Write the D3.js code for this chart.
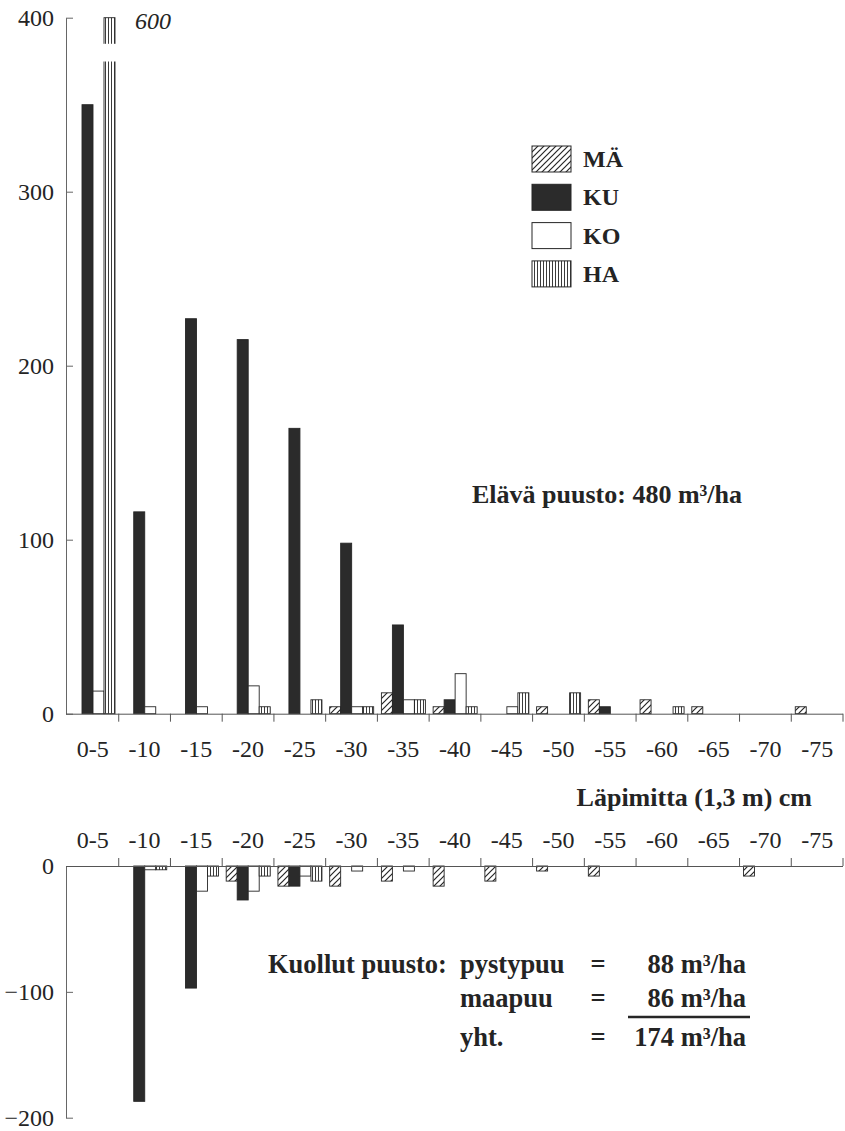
<!DOCTYPE html>
<html>
<head>
<meta charset="utf-8">
<script src="https://cdn.jsdelivr.net/npm/d3@7"></script>
<style>
  html, body { margin: 0; padding: 0; background: #fff; }
  svg { display: block; }
  text { font-family: "Liberation Serif", "Times New Roman", serif; fill: #242424; }
</style>
</head>
<body>
<script>
// ---- data ----
const categories = ["0-5","-10","-15","-20","-25","-30","-35","-40","-45","-50","-55","-60","-65","-70","-75"];
const series = ["MÄ","KU","KO","HA"];
// living trees (m3/ha per diameter class)
const liveMA = [0, 0, 0, 0, 0, 4, 12, 4, 0, 4, 8, 8, 4, 0, 4];
const liveKU = [350, 116, 227, 215, 164, 98, 51, 8, 0, 0, 4, 0, 0, 0, 0];
const liveKO = [13, 4, 4, 16, 0, 4, 8, 23, 4, 0, 0, 0, 0, 0, 0];
const liveHA = [600, 0, 0, 4, 8, 4, 8, 4, 12, 12, 0, 4, 0, 0, 0];
// dead trees (plotted downward)
const deadMA = [0, 0, 0, 12, 16, 16, 12, 16, 12, 4, 8, 0, 0, 8, 0];
const deadKU = [0, 187, 97, 27, 16, 0, 0, 0, 0, 0, 0, 0, 0, 0, 0];
const deadKO = [0, 3, 20, 20, 8, 4, 4, 0, 0, 0, 0, 0, 0, 0, 0];
const deadHA = [0, 3, 8, 8, 12, 0, 0, 0, 0, 0, 0, 0, 0, 0, 0];
const topTicks = [0, 100, 200, 300, 400];
const bottomTicks = [0, -100, -200];
const topMax = 400;

const liveRows = categories.map((c, i) => ({cat: c, "MÄ": liveMA[i], "KU": liveKU[i], "KO": liveKO[i], "HA": liveHA[i]}));
const deadRows = categories.map((c, i) => ({cat: c, "MÄ": deadMA[i], "KU": deadKU[i], "KO": deadKO[i], "HA": deadHA[i]}));

const W = 845, H = 1131;
const svg = d3.select("body").append("svg").attr("width", W).attr("height", H);
const ink = "#262626";

// patterns
const defs = svg.append("defs");
const hatch = defs.append("pattern").attr("id", "hatch").attr("patternUnits", "userSpaceOnUse")
  .attr("width", 6).attr("height", 6);
hatch.append("rect").attr("width", 6).attr("height", 6).attr("fill", "#fff");
hatch.append("path").attr("d", "M-1,7 L7,-1 M-4,4 L4,-4 M2,10 L10,2")
  .attr("stroke", ink).attr("stroke-width", 1.2);
const vl = defs.append("pattern").attr("id", "vlines").attr("patternUnits", "userSpaceOnUse")
  .attr("width", 3).attr("height", 10);
vl.append("rect").attr("width", 3).attr("height", 10).attr("fill", "#fff");
vl.append("line").attr("x1", 0.5).attr("x2", 0.5).attr("y1", 0).attr("y2", 10)
  .attr("stroke", ink).attr("stroke-width", 0.9);

const fills = {"MÄ": "url(#hatch)", "KU": "#2b2b2b", "KO": "#fff", "HA": "url(#vlines)"};

// scales
const x0 = d3.scaleBand().domain(categories).range([67, 843]).paddingInner(0).paddingOuter(0);
const x1 = d3.scaleBand().domain(series).range([4, 48]);
const yTop = d3.scaleLinear().domain([0, 400]).range([713.7, 17.7]);
const yBot = d3.scaleLinear().domain([-200, 0]).range([1117.7, 866]);

// ---- top chart ----
const gTop = svg.append("g");
liveRows.forEach(r => {
  series.forEach(s => {
    const v = r[s];
    if (!v) return;
    const vv = Math.min(v, topMax);
    gTop.append("rect")
      .attr("x", x0(r.cat) + x1(s))
      .attr("y", yTop(vv))
      .attr("width", x1.bandwidth())
      .attr("height", yTop(0) - yTop(vv))
      .attr("fill", fills[s])
      .attr("stroke", ink).attr("stroke-width", 0.9);
    if (v > topMax) {
      // axis break on the clipped bar
      gTop.append("rect")
        .attr("x", x0(r.cat) + x1(s) - 2)
        .attr("y", yTop(385))
        .attr("width", x1.bandwidth() + 4)
        .attr("height", yTop(375) - yTop(385) + 0.3)
        .attr("fill", "#fff");
      gTop.append("text")
        .attr("x", x0(r.cat) + x1(s) + x1.bandwidth() + 20)
        .attr("y", yTop(topMax) + 11)
        .attr("font-size", 24).attr("font-style", "italic")
        .text(v);
    }
  });
});

// top y axis
const yAxTop = svg.append("g").attr("transform", "translate(66,0)")
  .call(d3.axisLeft(yTop).tickValues(topTicks).tickSizeInner(-7).tickSizeOuter(0).tickPadding(12).tickFormat(d3.format("d")));
yAxTop.select(".domain").attr("stroke", "#666");
yAxTop.selectAll(".tick line").attr("stroke", "#666");
yAxTop.selectAll("text").attr("font-size", 24).attr("fill", ink);

// top x axis
const xAxTop = svg.append("g").attr("transform", `translate(0,${yTop(0)})`)
  .call(d3.axisBottom(x0).tickSize(0).tickPadding(26).tickSizeOuter(0));
xAxTop.select(".domain").attr("stroke", "#555").attr("d", "M66,0.5H843");
xAxTop.selectAll("text").attr("font-size", 24).attr("fill", ink);
svg.append("g").selectAll("line").data(categories.slice(1).concat(["end"]))
  .join("line")
  .attr("x1", d => d === "end" ? 843 : x0(d)).attr("x2", d => d === "end" ? 843 : x0(d))
  .attr("y1", yTop(0)).attr("y2", yTop(0) + 8)
  .attr("stroke", "#555");

// legend
const lg = svg.append("g");
series.forEach((s, i) => {
  lg.append("rect").attr("x", 532).attr("y", 146 + i * 38.3).attr("width", 39).attr("height", 26)
    .attr("fill", fills[s]).attr("stroke", ink).attr("stroke-width", 1);
  lg.append("text").attr("x", 583).attr("y", 167 + i * 38.3)
    .attr("font-size", 24).attr("font-weight", "bold").text(s);
});

// living stock text
svg.append("text").attr("x", 472).attr("y", 503).attr("font-size", 26).attr("font-weight", "bold")
  .text("Elävä puusto: 480 m³/ha");

// x title
svg.append("text").attr("x", 812).attr("y", 806).attr("text-anchor", "end")
  .attr("font-size", 26).attr("font-weight", "bold").text("Läpimitta (1,3 m) cm");

// ---- bottom chart ----
const gBot = svg.append("g");
deadRows.forEach(r => {
  series.forEach(s => {
    const v = r[s];
    if (!v) return;
    gBot.append("rect")
      .attr("x", x0(r.cat) + x1(s))
      .attr("y", yBot(0))
      .attr("width", x1.bandwidth())
      .attr("height", yBot(-v) - yBot(0))
      .attr("fill", fills[s])
      .attr("stroke", ink).attr("stroke-width", 0.9);
  });
});

const yAxBot = svg.append("g").attr("transform", "translate(66,0)")
  .call(d3.axisLeft(yBot).tickValues(bottomTicks).tickSizeInner(-7).tickSizeOuter(0).tickPadding(12).tickFormat(d3.format("d")));
yAxBot.select(".domain").attr("stroke", "#666");
yAxBot.selectAll(".tick line").attr("stroke", "#666");
yAxBot.selectAll("text").attr("font-size", 24).attr("fill", ink);

const xAxBot = svg.append("g").attr("transform", `translate(0,${yBot(0)})`)
  .call(d3.axisTop(x0).tickSize(0).tickPadding(18).tickSizeOuter(0));
xAxBot.select(".domain").attr("stroke", "#555").attr("d", "M66,0.5H843");
xAxBot.selectAll("text").attr("font-size", 24).attr("fill", ink);
svg.append("g").selectAll("line").data(categories.slice(1).concat(["end"]))
  .join("line")
  .attr("x1", d => d === "end" ? 843 : x0(d)).attr("x2", d => d === "end" ? 843 : x0(d))
  .attr("y1", yBot(0) - 8).attr("y2", yBot(0))
  .attr("stroke", "#555");

// dead stock summary
const deadLines = [
  {label: "pystypuu", value: "88 m³/ha", y: 973},
  {label: "maapuu", value: "86 m³/ha", y: 1007},
  {label: "yht.", value: "174 m³/ha", y: 1046}
];
const ds = svg.append("g").attr("font-size", 26.5).attr("font-weight", "bold");
ds.append("text").attr("x", 268).attr("y", 973).text("Kuollut puusto:");
deadLines.forEach(d => {
  ds.append("text").attr("x", 460).attr("y", d.y).text(d.label);
  ds.append("text").attr("x", 598).attr("y", d.y).attr("text-anchor", "middle").text("=");
  ds.append("text").attr("x", 746).attr("y", d.y).attr("text-anchor", "end").text(d.value);
});
svg.append("line").attr("x1", 628).attr("x2", 750).attr("y1", 1017).attr("y2", 1017)
  .attr("stroke", ink).attr("stroke-width", 2.5);
</script>
</body>
</html>
